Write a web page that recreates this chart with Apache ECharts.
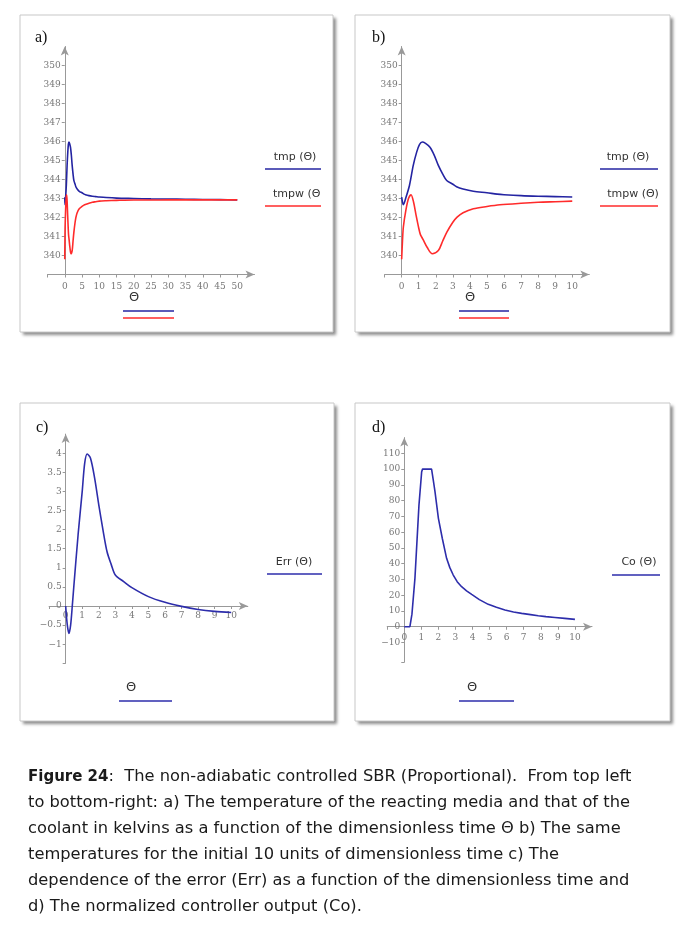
<!DOCTYPE html>
<html>
<head>
<meta charset="utf-8">
<script src="https://cdn.jsdelivr.net/npm/echarts@6/dist/echarts.min.js"></script>
<style>
html,body{margin:0;padding:0;background:#fff;}
#c{width:698px;height:934px;}
</style>
</head>
<body>
<div id="c"></div>
<script>
// ---- data ----
var thetaT = [0,0.05,0.1,0.25,0.46,0.68,0.88,1.05,1.21,1.4,1.66,1.9,2.15,2.4,2.64,3,3.22,3.6,4.2,5,5.6,6,7,8,9,10,12,15,20,25,30,35,40,45,50];
var tmp    = [343.07,342.8,342.68,343.05,343.7,344.74,345.44,345.85,345.97,345.9,345.7,345.3,344.74,344.3,343.95,343.75,343.62,343.5,343.38,343.3,343.23,343.2,343.15,343.12,343.1,343.08,343.05,343.02,343.0,342.98,342.97,342.96,342.95,342.94,342.93];
var thetaW = [0,0.05,0.1,0.25,0.4,0.55,0.7,0.85,1.0,1.1,1.25,1.5,1.8,2.15,2.4,2.65,3,3.25,3.6,4.2,5,5.76,7,8,9,10,12,15,20,25,30,35,40,45,50];
var tmpw   = [339.8,340.8,341.5,342.4,343.0,343.2,342.8,342.1,341.45,341.1,340.85,340.42,340.09,340.26,340.75,341.23,341.75,342.02,342.25,342.46,342.58,342.67,342.75,342.8,342.83,342.86,342.88,342.9,342.92,342.92,342.93,342.93,342.93,342.93,342.93];

var thetaE = [0,0.1,0.2,0.3,0.4,0.5,0.75,1,1.15,1.3,1.5,1.75,2,2.25,2.5,2.75,3,3.5,4,5,6,7,8,9,10];
var err    = [0,-0.5,-0.72,-0.5,0,0.55,1.86,3.0,3.74,3.98,3.87,3.35,2.65,2.0,1.42,1.09,0.81,0.64,0.48,0.245,0.096,-0.01,-0.09,-0.14,-0.17];

var thetaC = [0,0.33,0.45,0.625,0.86,1.02,1.07,1.6,1.7,1.8,2.0,2.23,2.48,2.67,2.87,3.1,3.36,3.65,3.95,4.4,4.92,5.4,5.9,6.4,6.88,7.4,7.85,8.3,8.83,9.4,10];
var co     = [0,0,8,30.7,77,98.4,100,100,93,85.7,68.8,56,43.4,37.5,32.8,28.6,25.4,22.8,20.5,17.2,14.2,12.3,10.6,9.4,8.5,7.7,7.0,6.4,5.9,5.3,4.65];

// tick labels
var xTicksA = [0,5,10,15,20,25,30,35,40,45,50];
var xTicks10 = [0,1,2,3,4,5,6,7,8,9,10];
var yTicksT = [340,341,342,343,344,345,346,347,348,349,350];
var yTicksE = [-1,-0.5,0,0.5,1,1.5,2,2.5,3,3.5,4];
var yTicksC = [-10,0,10,20,30,40,50,60,70,80,90,100,110];

var captionLines = [
  ['Figure 24', ':  The non-adiabatic controlled SBR (Proportional).  From top left'],
  ['', 'to bottom-right: a) The temperature of the reacting media and that of the'],
  ['', 'coolant in kelvins as a function of the dimensionless time \u0398 b) The same'],
  ['', 'temperatures for the initial 10 units of dimensionless time c) The'],
  ['', 'dependence of the error (Err) as a function of the dimensionless time and'],
  ['', 'd) The normalized controller output (Co).']
];

function zip(xs, ys, xmax) {
  var out = [];
  for (var i = 0; i < xs.length; i++) if (xmax == null || xs[i] <= xmax) out.push([xs[i], ys[i]]);
  return out;
}
function fmt(v) { return v < 0 ? '\u2212' + Math.abs(v) : String(v); }

var AX = '#999', LBL = '#777';
var BLUE = '#2424a2', RED = '#ff2b2b', BLUE2 = '#2d2dab';

function xAxisDef(gi, min, max, ticks, labels, margin, offset) {
  return {
    type: 'value', gridIndex: gi, min: min, max: max, position: 'bottom', offset: offset,
    axisLine: { onZero: false, lineStyle: { color: AX, width: 1 }, symbol: ['none', 'arrow'], symbolSize: [6, 9] },
    axisTick: { show: true, length: 3, inside: false, lineStyle: { color: AX }, customValues: ticks },
    axisLabel: { customValues: labels, formatter: fmt, color: LBL, fontFamily: 'DejaVu Serif', fontSize: 9, margin: margin },
    splitLine: { show: false }
  };
}
function yAxisDef(gi, min, max, ticks, labels, offset) {
  return {
    type: 'value', gridIndex: gi, min: min, max: max, position: 'left', offset: offset,
    axisLine: { onZero: false, lineStyle: { color: AX, width: 1 }, symbol: ['none', 'arrow'], symbolSize: [6, 9] },
    axisTick: { show: true, length: 3, inside: false, lineStyle: { color: AX }, customValues: ticks },
    axisLabel: { customValues: labels, formatter: fmt, color: LBL, fontFamily: 'DejaVu Serif', fontSize: 9, margin: 4 },
    splitLine: { show: false }
  };
}
function lineSeries(xi, data, color, smooth) {
  return {
    type: 'line', xAxisIndex: xi, yAxisIndex: xi, data: data, showSymbol: false, symbol: 'none',
    smooth: smooth, lineStyle: { color: color, width: 1.6 }, silent: true, animation: false
  };
}

var xTicksAall = [-5].concat(xTicksA);
var xTicks10all = [-1].concat(xTicks10);

var g = [];
// panel boxes: shadowed fill, then a plain border on top
[[20,15,313,317],[355,15,315,317],[20,403,314,318],[355,403,315,318]].forEach(function (b) {
  g.push({ type: 'rect', shape: { x: b[0], y: b[1], width: b[2], height: b[3] },
    style: { fill: '#fff', shadowBlur: 3, shadowOffsetX: 3, shadowOffsetY: 3, shadowColor: 'rgba(0,0,0,0.45)' }, z: -11 });
  g.push({ type: 'rect', shape: { x: b[0], y: b[1], width: b[2], height: b[3] },
    style: { fill: 'none', stroke: '#c8c8c8', lineWidth: 1 }, z: -10 });
});
function txt(x, y, s, size, align, family, color) {
  g.push({ type: 'text', x: x, y: y, style: { text: s, fontSize: size, fontFamily: family || 'DejaVu Sans', fill: color || '#333', align: align || 'center', verticalAlign: 'middle' }, z: 5 });
}
function seg(x1, x2, y, color) {
  g.push({ type: 'line', shape: { x1: x1, y1: y, x2: x2, y2: y }, style: { stroke: color, lineWidth: 1.6 }, z: 5 });
}
// panel letters
txt(35, 38, 'a)', 16, 'left', 'Liberation Serif', '#111');
txt(372, 38, 'b)', 16, 'left', 'Liberation Serif', '#111');
txt(36, 428, 'c)', 16, 'left', 'Liberation Serif', '#111');
txt(372, 428, 'd)', 16, 'left', 'Liberation Serif', '#111');
// legends a
txt(295, 157, 'tmp (\u0398)', 11); seg(265, 321, 169, BLUE);
txt(273, 194, 'tmpw (\u0398', 11, 'left'); seg(265, 321, 206, RED);
txt(134, 298, '\u0398', 13); seg(123, 174, 311, BLUE); seg(123, 174, 318, RED);
// legends b
txt(628, 157, 'tmp (\u0398)', 11); seg(600, 658, 169, BLUE);
txt(633, 194, 'tmpw (\u0398)', 11); seg(600, 658, 206, RED);
txt(470, 298, '\u0398', 13); seg(459, 509, 311, BLUE); seg(459, 509, 318, RED);
// legends c
txt(294, 562, 'Err (\u0398)', 11); seg(267, 322, 574, BLUE2);
txt(131, 688, '\u0398', 13); seg(119, 172, 701, BLUE2);
// legends d
txt(639, 562, 'Co (\u0398)', 11); seg(612, 660, 575, BLUE2);
txt(472, 688, '\u0398', 13); seg(459, 514, 701, BLUE2);
// caption
var capY = [777, 803, 829, 855, 881, 907];
captionLines.forEach(function (ln, i) {
  g.push({ type: 'text', x: 28, y: capY[i], style: {
    text: (ln[0] ? '{b|' + ln[0] + '}' : '') + '{n|' + ln[1] + '}',
    verticalAlign: 'middle', align: 'left',
    rich: { b: { fontFamily: 'DejaVu Sans', fontWeight: 'bold', fontSize: 15, fill: '#1a1a1a' },
            n: { fontFamily: 'DejaVu Sans', fontSize: 16.3, fill: '#1a1a1a' } } }, z: 5 });
});

var option = {
  animation: false,
  backgroundColor: '#fff',
  grid: [
    { left: 47.5, top: 46.5, width: 207, height: 228 },
    { left: 384.6, top: 46.5, width: 204.7, height: 228 },
    { left: 49.1, top: 434.1, width: 198.7, height: 229.2 },
    { left: 387.2, top: 437.6, width: 204.8, height: 224.6 }
  ],
  xAxis: [
    xAxisDef(0, -5, 55, xTicksAall, xTicksA, 8, 0),
    xAxisDef(1, -1, 11, xTicks10all, xTicks10, 8, 0),
    xAxisDef(2, -1, 11, xTicks10all, xTicks10, 5, -57.3),
    xAxisDef(3, -1, 11, xTicks10all, xTicks10, 6, -35.46)
  ],
  yAxis: [
    yAxisDef(0, 339, 351, yTicksT, yTicksT, -17.25),
    yAxisDef(1, 339, 351, yTicksT, yTicksT, -17.06),
    yAxisDef(2, -1.5, 4.5, [-1.5].concat(yTicksE), yTicksE, -16.56),
    yAxisDef(3, -22.5, 120, [-22.5].concat(yTicksC), yTicksC, -17.07)
  ],
  series: [
    lineSeries(0, zip(thetaT, tmp), BLUE, 0.3),
    lineSeries(0, zip(thetaW, tmpw), RED, 0.3),
    lineSeries(1, zip(thetaT, tmp, 10), BLUE, 0.3),
    lineSeries(1, zip(thetaW, tmpw, 10), RED, 0.3),
    lineSeries(2, zip(thetaE, err), BLUE2, 0.3),
    lineSeries(3, zip(thetaC, co), BLUE2, false)
  ],
  graphic: { elements: g }
};
var chart = echarts.init(document.getElementById('c'), null, { renderer: 'canvas' });
chart.setOption(option);
</script>
</body>
</html>
